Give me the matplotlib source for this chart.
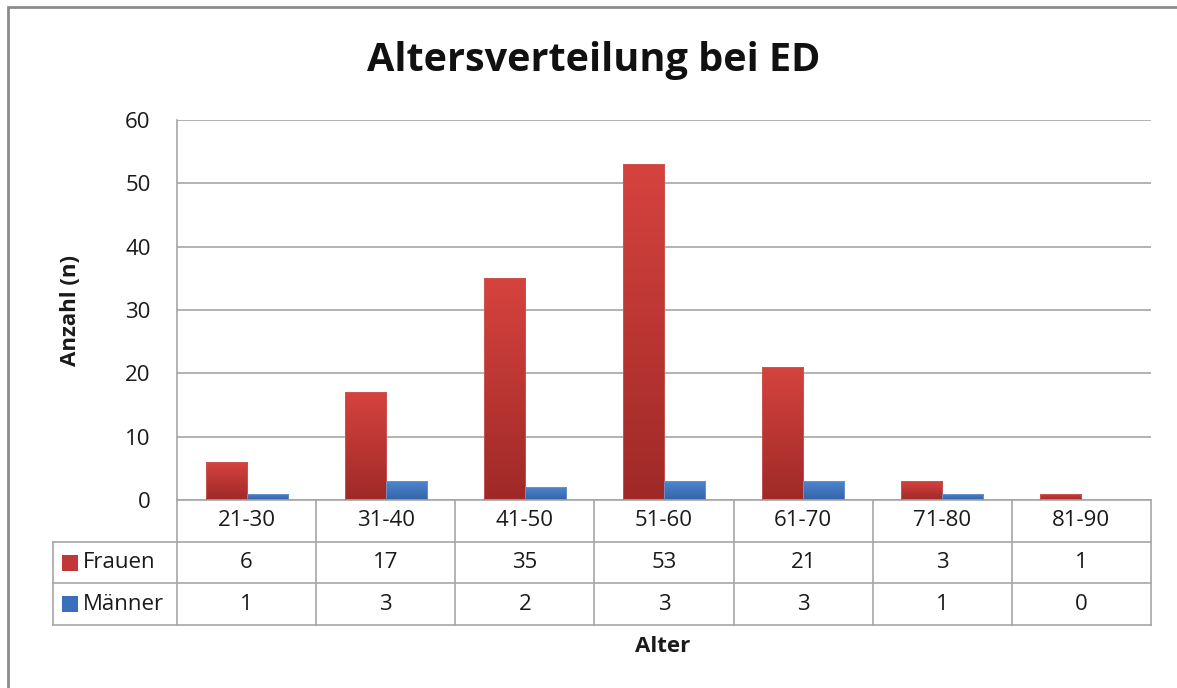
import numpy as np
import matplotlib.pyplot as plt
from matplotlib.patches import Rectangle
from matplotlib.colors import LinearSegmentedColormap

plt.rcParams['font.family'] = ['Open Sans', 'DejaVu Sans']

# data
categories = ['21-30', '31-40', '41-50', '51-60', '61-70', '71-80', '81-90']
frauen = [6, 17, 35, 53, 21, 3, 1]
maenner = [1, 3, 2, 3, 3, 1, 0]
series_names = ['Frauen', 'Männer']

W, H = 1177, 688
fig = plt.figure(figsize=(W / 100, H / 100), dpi=100)

# outer chart border (cropped at right and bottom)
fig.patches.append(Rectangle((8 / W, -0.1), 1.2, 1 - 7 / H + 0.1, transform=fig.transFigure,
                             fill=False, edgecolor='#8c8c8c', linewidth=2))

left, right, top, bottom = 177, 1151, 120, 500
ax = fig.add_axes([left / W, 1 - bottom / H, (right - left) / W, (bottom - top) / H])

x = np.arange(len(categories))
bw = 0.295
fs = 16
txt = '#1a1a1a'

red_cmap = LinearSegmentedColormap.from_list('r', ['#d6433e', '#9f2927'])
blue_cmap = LinearSegmentedColormap.from_list('b', ['#4f86cf', '#3363a6'])

def gradient_bars(xs, vals, cmap, edge):
    bars = ax.bar(xs, vals, bw, color='none', edgecolor=edge, linewidth=0.6, zorder=3)
    grad = np.linspace(0, 1, 256).reshape(-1, 1)
    for b in bars:
        if b.get_height() <= 0:
            continue
        x0, w, h = b.get_x(), b.get_width(), b.get_height()
        im = ax.imshow(grad, cmap=cmap, aspect='auto', extent=[x0, x0 + w, 0, h],
                       origin='upper', zorder=2)
        im.set_clip_path(b)
    return bars

gradient_bars(x - bw / 2, frauen, red_cmap, '#c85a57')
gradient_bars(x + bw / 2, maenner, blue_cmap, '#6a95cf')

ax.set_xlim(-0.5, len(categories) - 0.5)
ax.set_ylim(0, 60)
ax.set_yticks(range(0, 61, 10))
ax.yaxis.grid(True, color='#a6a6a6', linewidth=1.2)
ax.set_axisbelow(True)
for s in ['top', 'right', 'bottom']:
    ax.spines[s].set_visible(False)
ax.spines['left'].set_color('#a6a6a6')
ax.spines['left'].set_linewidth(1.2)
ax.tick_params(axis='y', length=0, labelsize=fs, pad=19, colors=txt)
ax.set_xticks([])
ax.set_ylabel('Anzahl (n)', fontsize=fs, fontweight='bold', labelpad=32, color=txt)

# data table below the plot
tr = ax.get_xaxis_transform()
rh = 41.7 / (bottom - top)  # row height in axes fraction
cell = (right - left) / len(categories)
xl = -0.5 - (left - 53) / cell  # left edge of the legend column
lc = dict(color='#a6a6a6', linewidth=1.2, clip_on=False, transform=tr)

ax.plot([-0.5, len(categories) - 0.5], [0, 0], **lc)
for r in range(1, 4):
    ax.plot([xl, len(categories) - 0.5], [-r * rh, -r * rh], **lc)
for i in range(len(categories) + 1):
    ax.plot([i - 0.5, i - 0.5], [0, -3 * rh], **lc)
ax.plot([xl, xl], [-rh, -3 * rh], **lc)

for i, c in enumerate(categories):
    ax.text(i, -0.5 * rh, c, ha='center', va='center', fontsize=fs, transform=tr, color=txt)
    ax.text(i, -1.5 * rh, str(frauen[i]), ha='center', va='center', fontsize=fs, transform=tr, color=txt)
    ax.text(i, -2.5 * rh, str(maenner[i]), ha='center', va='center', fontsize=fs, transform=tr, color=txt)

for r, (name, col) in enumerate(zip(series_names, ['#c0383a', '#3a70bb'])):
    yc = -(r + 1.5) * rh
    ax.add_patch(Rectangle((xl + 9 / cell, yc - 8 / (bottom - top)), 16 / cell, 16 / (bottom - top),
                           transform=tr, facecolor=col, edgecolor='none', clip_on=False))
    ax.text(xl + 30 / cell, yc, name, ha='left', va='center', fontsize=fs, transform=tr, color=txt)

fig.text(663 / W, 1 - 646 / H, 'Alter', ha='center', va='center', fontsize=fs, fontweight='bold', color=txt)
fig.text(594 / W, 1 - 60 / H, 'Altersverteilung bei ED', ha='center', va='center',
         fontsize=28.5, fontweight='bold', color='#111111')

fig.savefig('out.png', dpi=100)
